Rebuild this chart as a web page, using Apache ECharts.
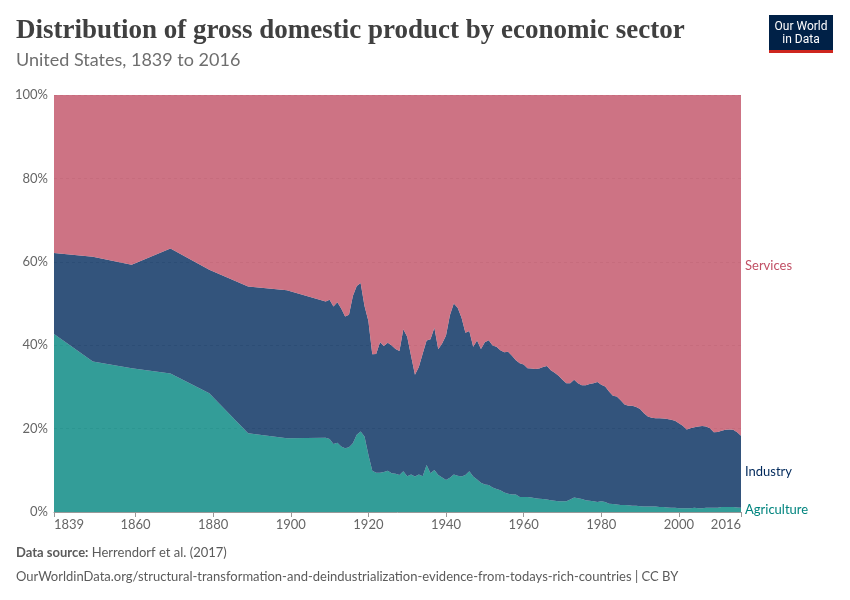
<!DOCTYPE html>
<html><head><meta charset="utf-8">
<script src="https://cdn.jsdelivr.net/npm/echarts@6/dist/echarts.min.js"></script>
<style>html,body{margin:0;padding:0;background:#fff;} #c{width:850px;height:600px;}</style>
</head><body><div id="c"></div>
<script>
const years = [1839,1849,1859,1869,1879,1889,1899,
1909,1910,1911,1912,1913,1914,1915,1916,1917,1918,
1919,1920,1921,1922,1923,1924,1925,1926,1927,1928,
1929,1930,1931,1932,1933,1934,1935,1936,1937,1938,
1939,1940,1941,1942,1943,1944,1945,1946,1947,1948,
1949,1950,1951,1952,1953,1954,1955,1956,1957,1958,
1959,1960,1961,1962,1963,1964,1965,1966,1967,1968,
1969,1970,1971,1972,1973,1974,1975,1976,1977,1978,
1979,1980,1981,1982,1983,1984,1985,1986,1987,1988,
1989,1990,1991,1992,1993,1994,1995,1996,1997,1998,
1999,2000,2001,2002,2003,2004,2005,2006,2007,2008,
2009,2010,2011,2012,2013,2014,2015,2016];

const agriculture = [42.7,36.1,34.5,33.2,28.5,18.9,17.7,
17.8,17.5,16.3,16.6,15.7,15.3,15.5,16.5,18.5,19.3,
18.1,13.7,9.9,9.4,9.4,9.6,9.9,9.3,9.2,8.9,
9.8,8.6,9.0,8.5,9.0,8.6,11.3,9.3,10.1,8.9,
8.3,7.7,8.2,9.0,8.7,8.5,8.9,9.8,8.5,7.8,
7.0,6.6,6.5,5.9,5.5,5.2,4.7,4.4,4.2,4.2,
3.6,3.6,3.6,3.5,3.3,3.2,3.1,3.0,2.8,2.7,
2.6,2.6,2.6,3.0,3.5,3.3,3.1,2.8,2.7,2.6,
2.4,2.6,2.4,2.0,1.9,1.8,1.7,1.7,1.6,1.5,
1.5,1.4,1.3,1.3,1.3,1.3,1.2,1.2,1.1,1.0,
1.0,0.9,0.9,0.9,0.9,1.0,0.9,0.9,1.0,1.0,
1.0,1.0,1.2,1.2,1.2,1.2,1.1,1.0];

const industry = [19.4,25.1,24.8,30.0,29.6,35.2,35.5,
32.7,33.4,33.0,33.7,33.1,31.6,31.8,35.3,35.7,35.6,
31.3,32.1,27.9,28.5,31.3,30.2,30.7,30.6,29.9,29.7,
34.0,33.4,28.4,24.4,25.8,29.4,29.8,32.1,34.1,30.1,
32.1,34.6,39.0,41.0,40.3,38.1,34.1,33.6,31.1,33.3,
32.1,34.1,34.7,34.0,34.1,33.6,33.6,34.0,33.3,32.2,
32.1,31.8,30.9,30.9,31.0,31.2,31.7,32.0,31.2,30.7,
30.1,29.1,28.3,27.9,28.2,27.6,27.3,27.6,28.0,28.3,
28.8,27.9,27.7,26.9,26.0,25.9,25.1,24.1,23.9,24.0,
23.7,23.3,22.4,21.6,21.3,21.2,21.3,21.2,21.2,21.1,
20.9,20.4,19.8,18.9,19.2,19.3,19.6,19.7,19.5,19.1,
18.1,18.2,18.3,18.5,18.6,18.5,18.0,17.3];

const services = [37.9,38.8,40.7,36.8,41.9,45.9,46.8,
49.5,49.1,50.7,49.7,51.2,53.1,52.7,48.2,45.8,45.1,
50.6,54.2,62.2,62.1,59.3,60.2,59.4,60.1,60.9,61.4,
56.2,58.0,62.6,67.1,65.2,62.0,58.9,58.6,55.8,61.0,
59.6,57.7,52.8,50.0,51.0,53.4,57.0,56.6,60.4,58.9,
60.9,59.3,58.8,60.1,60.4,61.2,61.7,61.6,62.5,63.6,
64.3,64.6,65.5,65.6,65.7,65.6,65.2,65.0,66.0,66.6,
67.3,68.3,69.1,69.1,68.3,69.1,69.6,69.6,69.3,69.1,
68.8,69.5,69.9,71.1,72.1,72.3,73.2,74.2,74.5,74.5,
74.8,75.3,76.3,77.1,77.4,77.5,77.5,77.6,77.7,77.9,
78.1,78.7,79.3,80.2,79.9,79.7,79.5,79.4,79.5,79.9,
80.9,80.8,80.5,80.3,80.2,80.3,80.9,81.7];

const seriesNames = ['Agriculture','Industry','Services'];
const xTickLabels = [1839,1860,1880,1900,1920,1940,1960,1980,2000,2016];
const yTickLabels = [0,20,40,60,80,100];

const baseColors = {Agriculture:'#00847E', Industry:'#00295B', Services:'#C15065'};
const FONT = 'Lato, "Noto Sans", sans-serif';

const chart = echarts.init(document.getElementById('c'), null, {renderer:'canvas'});
const valuesBy = {Agriculture: agriculture, Industry: industry, Services: services};

// data stored as [share, year] so that the share (dimension 0) is the stacked one
const series = seriesNames.map(n => ({
  name: n,
  type: 'line',
  stack: 'total',
  symbol: 'none',
  encode: {x: 1, y: 0},
  lineStyle: {width: 0},
  areaStyle: {color: baseColors[n], opacity: 0.8},
  itemStyle: {color: baseColors[n]},
  data: years.map((y, i) => [valuesBy[n][i], y])
}));

chart.setOption({
  animation: false,
  backgroundColor: '#fff',
  grid: {left: 54, right: 109, top: 95, bottom: 88, containLabel: false},
  xAxis: {
    type: 'value', min: 1839, max: 2016,
    axisLine: {show: true, lineStyle: {color: '#999', width: 1}},
    axisTick: {show: true, length: 5, customValues: xTickLabels, lineStyle: {color: '#999'}},
    axisLabel: {customValues: xTickLabels, formatter: v => String(v), color: '#666', fontSize: 13, fontFamily: FONT, margin: 6, alignMinLabel: 'left', alignMaxLabel: 'right'},
    splitLine: {show: false}
  },
  yAxis: {
    type: 'value', min: 0, max: 100, interval: 20,
    axisLine: {show: false}, axisTick: {show: false},
    axisLabel: {formatter: v => yTickLabels.includes(v) ? v + '%' : '', color: '#666', fontSize: 13, fontFamily: FONT, margin: 6},
    splitLine: {show: true, lineStyle: {color: '#ddd', type: [3, 3], width: 1}}
  },
  series: series,
  graphic: [
    {type:'text', x: 16, y: 31.5, style:{text:'Distribution of gross domestic product by economic sector', font:'bold 27px "Liberation Serif", "DejaVu Serif", serif', fill:'#404040', verticalAlign:'middle'}},
    {type:'text', left: 16, top: 51, style:{text:'United States, 1839 to 2016', font:'18px '+FONT, fill:'#6e6e6e'}},
    {type:'rect', shape:{x:769, y:15, width:64, height:37}, style:{fill:'#002147'}},
    {type:'rect', shape:{x:769, y:50, width:64, height:3}, style:{fill:'#ce261e'}},
    {type:'text', x:801, y:27, style:{text:'Our World', font:'12px Roboto, sans-serif', fill:'#fff', align:'center', verticalAlign:'middle'}},
    {type:'text', x:801, y:40, style:{text:'in Data', font:'12px Roboto, sans-serif', fill:'#fff', align:'center', verticalAlign:'middle'}},
    {type:'text', x:16, y:553, style:{text:'{b|Data source:} Herrendorf et al. (2017)', verticalAlign:'middle', rich:{b:{fontWeight:'bold', fontSize:13, fontFamily:FONT, fill:'#5b5b5b'}}, font:'13px '+FONT, fill:'#5b5b5b'}},
    {type:'text', x:16, y:577, style:{text:'OurWorldinData.org/structural-transformation-and-deindustrialization-evidence-from-todays-rich-countries | CC BY', verticalAlign:'middle', font:'13px '+FONT, fill:'#5b5b5b'}}
  ]
});

// end labels at middle of each band at the last year
const lastIdx = years.length - 1;
const lastYear = years[lastIdx];
let cum = 0;
const endLabels = seriesNames.map(n => {
  const v = valuesBy[n][lastIdx];
  const mid = cum + v / 2;
  cum += v;
  const p = chart.convertToPixel({gridIndex: 0}, [lastYear, mid]);
  return {type:'text', id:'lab_' + n, x: p[0] + 4, y: p[1], style:{text:n, font:'13px '+FONT, fill: baseColors[n], verticalAlign:'middle'}};
});
chart.setOption({graphic: endLabels});
</script>
</body></html>
